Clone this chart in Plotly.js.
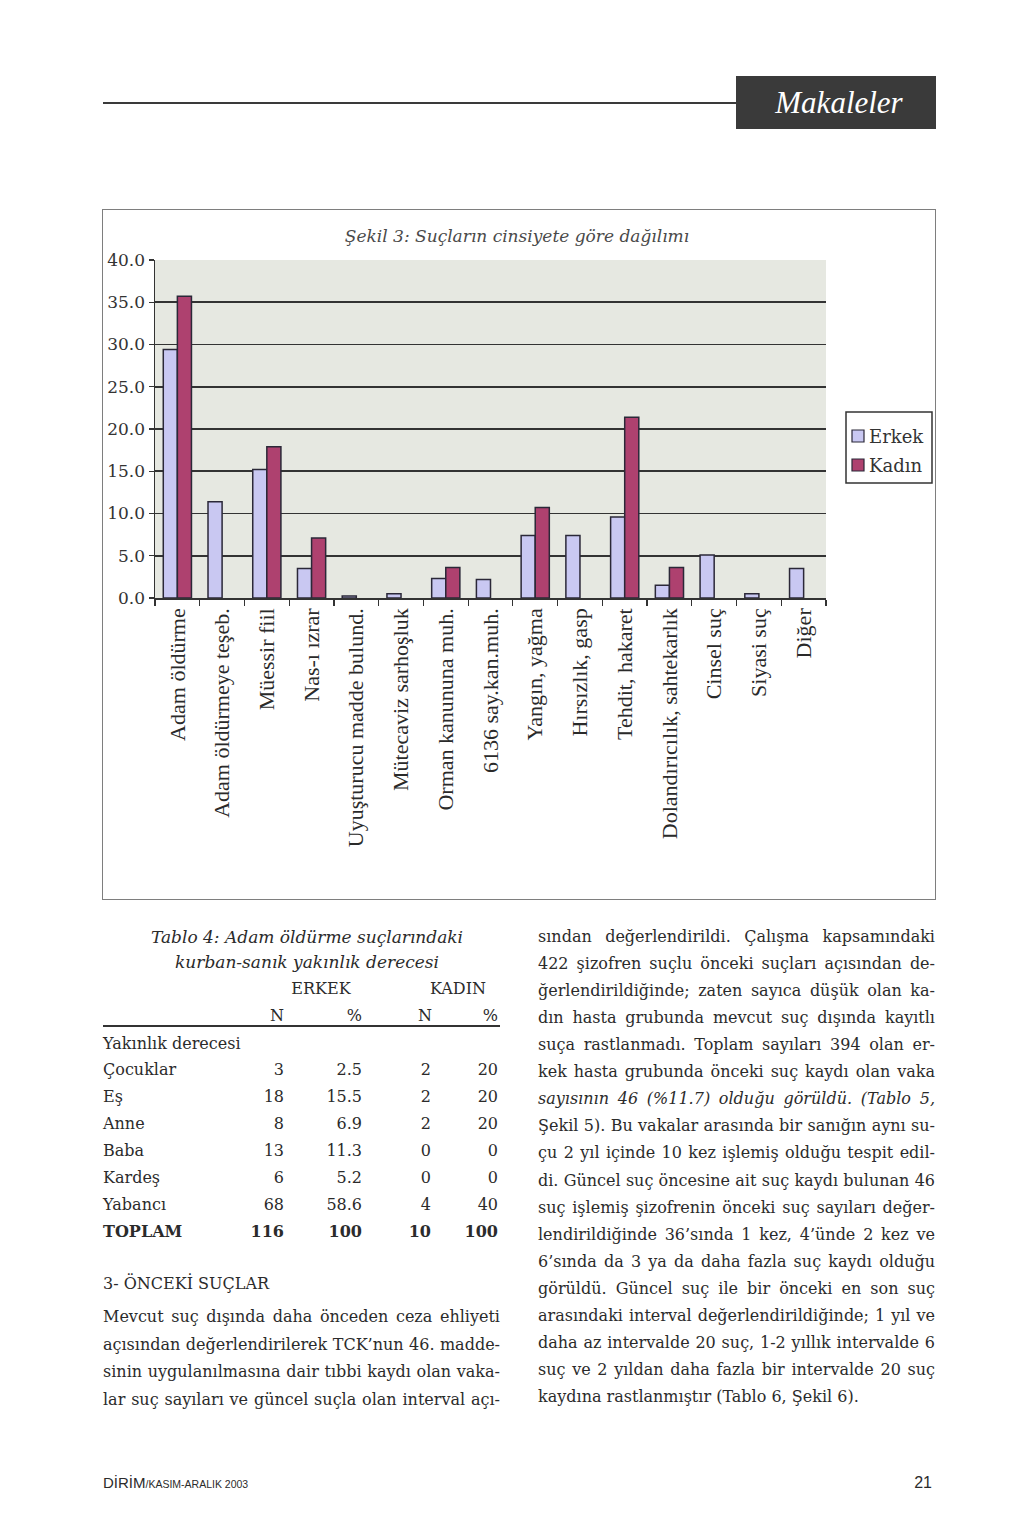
<!DOCTYPE html>
<html>
<head>
<meta charset="utf-8">
<script src="https://cdn.plot.ly/plotly-3.0.1.min.js"></script>
<style>
html,body{margin:0;padding:0;background:#fff;}
#page{position:relative;width:1024px;height:1522px;overflow:hidden;font-family:'DejaVu Serif',serif;color:#2b2b2b;}
.abs{position:absolute;}
.ln{position:absolute;white-space:nowrap;height:22px;line-height:22px;font-size:16px;display:inline-block;}
</style>
</head>
<body>
<div id="page">
  <div class="abs" style="left:103px;top:102px;width:634px;height:2px;background:#3a3a3a"></div>
  <div class="abs" style="left:736px;top:76px;width:200px;height:53px;background:#3a3a3a;color:#fff;font-family:'Liberation Serif',serif;font-style:italic;font-size:31px;line-height:53px;text-align:center;padding-left:6px;box-sizing:border-box;">Makaleler</div>
  <div id="chart" class="abs" style="left:103px;top:210px;width:832px;height:690px"></div>
  <div class="abs" style="left:102px;top:209px;width:832px;height:689px;border:1.5px solid #7e7e7e;pointer-events:none"></div>
  <div id="text"></div>
</div>
<script>
// ---------- chart data ----------
const categories = ['Adam öldürme','Adam öldürmeye teşeb.','Müessir fiil','Nas-ı ızrar','Uyuşturucu madde bulund.','Mütecaviz sarhoşluk','Orman kanununa muh.','6136 say.kan.muh.','Yangın, yağma','Hırsızlık, gasp','Tehdit, hakaret','Dolandırıcılık, sahtekarlık','Cinsel suç','Siyasi suç','Diğer'];
const erkek = [29.4, 11.4, 15.2, 3.5, 0.25, 0.5, 2.3, 2.2, 7.4, 7.4, 9.6, 1.5, 5.1, 0.5, 3.5];
const kadin = [35.7, 0, 17.9, 7.1, 0, 0, 3.6, 0, 10.7, 0, 21.4, 3.6, 0, 0, 0];
const seriesNames = ['Erkek', 'Kadın'];
const yTickVals = [0, 5, 10, 15, 20, 25, 30, 35, 40];
const chartTitle = 'Şekil 3: Suçların cinsiyete göre dağılımı';

// ---------- table data ----------
const tableTitle1 = 'Tablo 4: Adam öldürme suçlarındaki';
const tableTitle2 = 'kurban-sanık yakınlık derecesi';
const groupHeads = ['ERKEK', 'KADIN'];
const subHeads = ['N', '%', 'N', '%'];
const rowHeader = 'Yakınlık derecesi';
const relLabels = ['Çocuklar', 'Eş', 'Anne', 'Baba', 'Kardeş', 'Yabancı', 'TOPLAM'];
const erkekN = ['3', '18', '8', '13', '6', '68', '116'];
const erkekPct = ['2.5', '15.5', '6.9', '11.3', '5.2', '58.6', '100'];
const kadinN = ['2', '2', '2', '0', '0', '4', '10'];
const kadinPct = ['20', '20', '20', '0', '0', '40', '100'];

// ---------- body text ----------
const sectionHead = '3- ÖNCEKİ SUÇLAR';
const leftLines = [
  'Mevcut suç dışında daha önceden ceza ehliyeti',
  'açısından değerlendirilerek TCK’nun 46. madde-',
  'sinin uygulanılmasına dair tıbbi kaydı olan vaka-',
  'lar suç sayıları ve güncel suçla olan interval açı-'
];
const rightLines = [
  'sından değerlendirildi. Çalışma kapsamındaki',
  '422 şizofren suçlu önceki suçları açısından de-',
  'ğerlendirildiğinde; zaten sayıca düşük olan ka-',
  'dın hasta grubunda mevcut suç dışında kayıtlı',
  'suça rastlanmadı. Toplam sayıları 394 olan er-',
  'kek hasta grubunda önceki suç kaydı olan vaka',
  'sayısının 46 (%11.7) olduğu görüldü. (Tablo 5,',
  'Şekil 5). Bu vakalar arasında bir sanığın aynı su-',
  'çu 2 yıl içinde 10 kez işlemiş olduğu tespit edil-',
  'di. Güncel suç öncesine ait suç kaydı bulunan 46',
  'suç işlemiş şizofrenin önceki suç sayıları değer-',
  'lendirildiğinde 36’sında 1 kez, 4’ünde 2 kez ve',
  '6’sında da 3 ya da daha fazla suç kaydı olduğu',
  'görüldü. Güncel suç ile bir önceki en son suç',
  'arasındaki interval değerlendirildiğinde; 1 yıl ve',
  'daha az intervalde 20 suç, 1-2 yıllık intervalde 6',
  'suç ve 2 yıldan daha fazla bir intervalde 20 suç',
  'kaydına rastlanmıştır (Tablo 6, Şekil 6).'
];

// ---------- chart ----------
const W = 832, H = 690;
const M = {l: 52, r: 109, t: 50, b: 302};
const PW = W - M.l - M.r, PH = H - M.t - M.b;
const px = x => (x - M.l) / PW;          // div px -> paper x
const py = y => (M.t + PH - y) / PH;     // div px -> paper y

const fills = ['#c9c8f2', '#ae416f'];
const edge = '#2b2838';

const traces = [erkek, kadin].map((vals, i) => ({
  type: 'bar', x: categories, y: vals, name: seriesNames[i],
  marker: {color: fills[i], line: {color: edge, width: vals.map(v => v > 0 ? 1.5 : 0)}},
  showlegend: false, hoverinfo: 'x+y+name'
}));

const shapes = [
  {type: 'rect', xref: 'paper', yref: 'paper', x0: px(743), x1: px(829), y0: py(273), y1: py(202),
   line: {color: '#333', width: 1.5}, fillcolor: '#fff'}
];
const annotations = [];
seriesNames.forEach((nm, i) => {
  const cy = 226 + i * 29;
  shapes.push({type: 'rect', xref: 'paper', yref: 'paper', x0: px(749), x1: px(761), y0: py(cy + 6), y1: py(cy - 6),
    line: {color: edge, width: 1.2}, fillcolor: fills[i]});
  annotations.push({xref: 'paper', yref: 'paper', x: px(764), y: py(cy), xanchor: 'left', yanchor: 'middle',
    text: nm, showarrow: false, font: {family: 'DejaVu Serif, serif', size: 18, color: '#333'}});
});

const layout = {
  width: W, height: H,
  margin: M,
  paper_bgcolor: 'rgba(0,0,0,0)',
  plot_bgcolor: '#e6e8e1',
  barmode: 'group', bargap: 0.37, bargroupgap: 0,
  showlegend: false,
  title: {text: chartTitle, x: 414 / W, xanchor: 'center', y: 1 - 26 / H, yanchor: 'middle',
          font: {family: 'DejaVu Serif, serif', size: 17, style: 'italic', color: '#4a4a4a'}},
  xaxis: {type: 'category', tickangle: -90, ticks: 'outside', tickson: 'boundaries', ticklen: 6,
          tickcolor: '#333', tickwidth: 1.2, showline: true, linecolor: '#333', linewidth: 1.5,
          showgrid: false, automargin: false,
          tickfont: {family: 'Liberation Serif, serif', size: 22, color: '#2a2a2a'}},
  yaxis: {range: [0, 40], tickvals: yTickVals, tickformat: '.1f', ticks: 'outside', ticklen: 5,
          tickcolor: '#333', tickwidth: 1.2, showline: true, linecolor: '#333', linewidth: 1.5,
          showgrid: true, gridcolor: '#333', gridwidth: 1.6, zeroline: false, automargin: false,
          tickfont: {family: 'DejaVu Serif, serif', size: 17, color: '#333'}},
  shapes: shapes, annotations: annotations
};
Plotly.newPlot('chart', traces, layout, {staticPlot: true, displayModeBar: false});

// ---------- page text ----------
const host = document.getElementById('text');
function addLine(str, left, center, opts) {
  opts = opts || {};
  const d = document.createElement('div');
  d.className = 'ln';
  d.textContent = str;
  const fs = opts.size || 16;
  d.style.fontSize = fs + 'px';
  if (opts.italic) d.style.fontStyle = 'italic';
  if (opts.bold) d.style.fontWeight = 'bold';
  if (opts.family) d.style.fontFamily = opts.family;
  if (opts.color) d.style.color = opts.color;
  d.style.top = (center - 12) + 'px';
  host.appendChild(d);
  d._opts = opts; d._left = left;
  return d;
}
const placed = [];
function place(d) { placed.push(d); return d; }

// table title
place(addLine(tableTitle1, 307, 938, {italic: true, align: 'center', size: 17}));
place(addLine(tableTitle2, 307, 963, {italic: true, align: 'center', size: 17}));
place(addLine(groupHeads[0], 321, 990, {align: 'center'}));
place(addLine(groupHeads[1], 458, 990, {align: 'center'}));
[277, 362, 425, 498].forEach((x, i) => place(addLine(subHeads[i], x, 1017, {align: i % 2 ? 'right' : 'center'})));
const rule = document.createElement('div');
rule.className = 'abs';
rule.style.cssText = 'left:103px;top:1025px;width:397px;height:1.5px;background:#333';
host.appendChild(rule);
place(addLine(rowHeader, 103, 1045, {}));
relLabels.forEach((lab, i) => {
  const c = 1071 + i * 27;
  const b = (i === relLabels.length - 1);
  place(addLine(lab, 103, c, {bold: b}));
  place(addLine(erkekN[i], 284, c, {bold: b, align: 'right'}));
  place(addLine(erkekPct[i], 362, c, {bold: b, align: 'right'}));
  place(addLine(kadinN[i], 431, c, {bold: b, align: 'right'}));
  place(addLine(kadinPct[i], 498, c, {bold: b, align: 'right'}));
});

// left body
place(addLine(sectionHead, 103, 1285, {}));
leftLines.forEach((s, i) => place(addLine(s, 103, 1318 + i * 27.7, {justify: 397})));
// right body
rightLines.forEach((s, i) => place(addLine(s, 538, 938 + i * 27.06,
  {justify: i === rightLines.length - 1 ? 0 : 397, italic: i === 6})));

// footer
const f = document.createElement('div');
f.className = 'abs';
f.style.cssText = "left:103px;top:1474px;font-family:'Liberation Sans',sans-serif;font-size:15px;color:#2b2b2b;white-space:nowrap;line-height:18px";
f.innerHTML = 'DİRİM<span style="font-size:10.5px">/KASIM-ARALIK 2003</span>';
host.appendChild(f);
const pg = document.createElement('div');
pg.className = 'abs';
pg.style.cssText = "right:92px;top:1474px;font-family:'Liberation Sans',sans-serif;font-size:16px;color:#2b2b2b;line-height:18px";
pg.textContent = '21';
host.appendChild(pg);

function layoutText() {
  placed.forEach(d => {
    const o = d._opts;
    d.style.wordSpacing = '0px'; d.style.letterSpacing = '0px';
    const w = d.getBoundingClientRect().width;
    if (o.justify) {
      const spaces = (d.textContent.match(/ /g) || []).length;
      if (w < o.justify && spaces > 0) d.style.wordSpacing = ((o.justify - w) / spaces) + 'px';
      else if (w > o.justify) d.style.letterSpacing = ((o.justify - w) / d.textContent.length) + 'px';
      d.style.left = d._left + 'px';
    } else if (o.align === 'center') {
      d.style.left = (d._left - w / 2) + 'px';
    } else if (o.align === 'right') {
      d.style.left = (d._left - w) + 'px';
    } else {
      d.style.left = d._left + 'px';
    }
  });
}
layoutText();
if (document.fonts && document.fonts.ready) document.fonts.ready.then(layoutText);
</script>
</body>
</html>
